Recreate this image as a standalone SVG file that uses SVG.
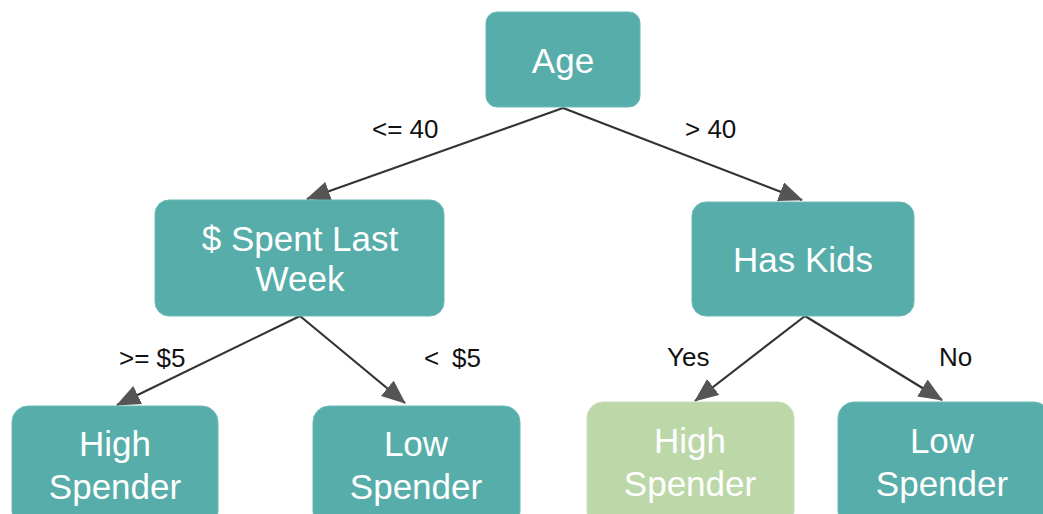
<svg xmlns="http://www.w3.org/2000/svg" width="1043" height="514" viewBox="0 0 1043 514">
<defs>
<style>
.n{fill:#56ada9;stroke:#6cbab6;stroke-width:1}
.g{fill:#bcd7a8;stroke:#c9dfb8;stroke-width:1}
.t{font-family:"Liberation Sans",Arial,sans-serif;font-size:35px;fill:#ffffff;text-anchor:middle}
.l{font-family:"Liberation Sans",Arial,sans-serif;font-size:26px;fill:#111111}
.c{stroke:#333333;stroke-width:2.2;fill:none;marker-end:url(#ah)}
</style>
<marker id="ah" viewBox="0 0 24 20" refX="23" refY="10" markerWidth="24" markerHeight="20" markerUnits="userSpaceOnUse" orient="auto">
<path d="M0,0 L24,10 L0,20 z" fill="#555555"/>
</marker>
</defs>
<rect width="1043" height="514" fill="#ffffff"/>
<g id="connectors">
<line class="c" x1="563" y1="108" x2="307" y2="199"/>
<line class="c" x1="563" y1="108" x2="802" y2="200"/>
<line class="c" x1="300" y1="316" x2="117" y2="405"/>
<line class="c" x1="300" y1="316" x2="405" y2="403"/>
<line class="c" x1="805" y1="316" x2="695" y2="401"/>
<line class="c" x1="805" y1="316" x2="942" y2="400"/>
</g>
<g id="labels">
<text class="l" x="372" y="138">&lt;= 40</text>
<text class="l" x="685" y="138">&gt; 40</text>
<text class="l" x="119" y="367">&gt;= $5</text>
<text class="l" x="424" y="367">&lt;<tspan x="452">$5</tspan></text>
<text class="l" x="667" y="366">Yes</text>
<text class="l" x="939" y="366">No</text>
</g>
<g id="age">
<rect class="n" x="486" y="12" width="154" height="95" rx="11"/>
<text class="t" x="563" y="73">Age</text>
</g>
<g id="spent">
<rect class="n" x="155" y="200" width="289" height="116" rx="14"/>
<text class="t" x="300" y="251">$ Spent Last</text>
<text class="t" x="300" y="291">Week</text>
</g>
<g id="haskids">
<rect class="n" x="692" y="202" width="222" height="114" rx="14"/>
<text class="t" x="803" y="272">Has Kids</text>
</g>
<g id="high1">
<rect class="n" x="12" y="406" width="206" height="122" rx="16"/>
<text class="t" x="115" y="456">High</text>
<text class="t" x="115" y="499">Spender</text>
</g>
<g id="low1">
<rect class="n" x="313" y="406" width="207" height="122" rx="16"/>
<text class="t" x="416" y="456">Low</text>
<text class="t" x="416" y="499">Spender</text>
</g>
<g id="high2">
<rect class="g" x="587" y="402" width="207" height="126" rx="16"/>
<text class="t" x="690" y="453">High</text>
<text class="t" x="690" y="496">Spender</text>
</g>
<g id="low2">
<rect class="n" x="838" y="402" width="212" height="126" rx="16"/>
<text class="t" x="942" y="453">Low</text>
<text class="t" x="942" y="496">Spender</text>
</g>
</svg>
